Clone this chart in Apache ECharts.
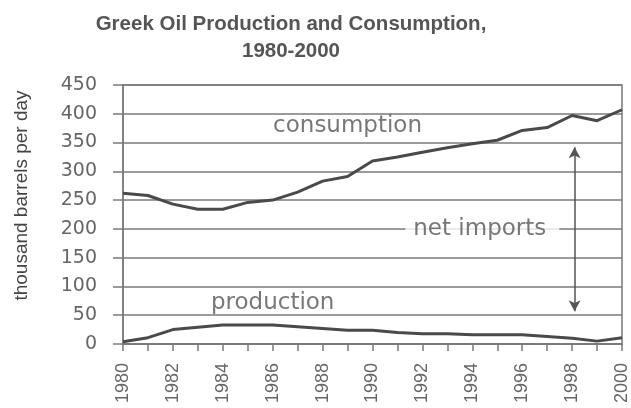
<!DOCTYPE html>
<html>
<head>
<meta charset="utf-8">
<script src="https://cdn.jsdelivr.net/npm/echarts@6/dist/echarts.min.js"></script>
<style>
html,body{margin:0;padding:0;background:#fff;}
#chart{width:631px;height:408px;}
</style>
</head>
<body>
<div id="chart"></div>
<script>
// ---- data ----
var years = [1980,1981,1982,1983,1984,1985,1986,1987,1988,1989,1990,1991,1992,1993,1994,1995,1996,1997,1998,1999,2000];
var consumption = [262,258,243,234,234,246,250,264,283,291,318,325,333,341,348,354,371,376,397,388,407];
var production  = [4,11,25,29,33,33,33,30,27,24,24,20,18,18,16,16,16,13,10,5,11];
var yTicks = [0,50,100,150,200,250,300,350,400,450];
var xTickLabels = ['1980','1982','1984','1986','1988','1990','1992','1994','1996','1998','2000'];
var titleText = 'Greek Oil Production and Consumption,\n1980-2000';
var yAxisName = 'thousand barrels per day';
var annotationTexts = ['consumption','production','net imports'];
var annotationPos = [[1989,379],[1986,71],[1994.4,200]];
var arrowYear = 1998.1;
var arrowRange = [342, 57];

var chart = echarts.init(document.getElementById('chart'), null, {renderer:'canvas'});
var gridCol = '#7a7a7a';

function pairs(vals){ return years.map(function(y,i){ return [y, vals[i]]; }); }

var annData = annotationTexts.map(function(t,i){
  var item = {value:[annotationPos[i][0], annotationPos[i][1], t]};
  if (t === 'net imports') {
    item.label = {backgroundColor:'#fff', padding:[2,13,2,8]};
  }
  return item;
});

var option = {
  animation:false,
  backgroundColor:'#fff',
  title:{
    text:titleText,
    left:286, top:6, textAlign:'center',
    textStyle:{fontFamily:'Liberation Sans, Arial, sans-serif', fontSize:20.5, fontWeight:'bold', color:'#555', lineHeight:27}
  },
  grid:{left:123, right:8, top:85, bottom:64, show:true, borderColor:gridCol, borderWidth:1.5, backgroundColor:'transparent'},
  xAxis:{
    type:'value', min:1980, max:2000, interval:1,
    axisLine:{show:true, lineStyle:{color:gridCol, width:1.5}},
    axisTick:{show:true, length:7, lineStyle:{color:gridCol, width:1.5}},
    splitLine:{show:false},
    axisLabel:{
      rotate:90, margin:19, color:'#666',
      fontFamily:'Liberation Sans, Arial, sans-serif', fontSize:18,
      formatter:function(v){ var s=String(v); return xTickLabels.indexOf(s)>=0 ? s : ''; }
    }
  },
  yAxis:{
    type:'value', min:yTicks[0], max:yTicks[yTicks.length-1], interval:50,
    name:yAxisName, nameLocation:'middle', nameGap:92,
    nameTextStyle:{fontFamily:'Liberation Sans Narrow, Liberation Sans, Arial, sans-serif', fontSize:19, color:'#444', padding:[0,0,0,38]},
    axisLine:{show:true, lineStyle:{color:gridCol, width:1.5}},
    axisTick:{show:true, length:10, lineStyle:{color:gridCol, width:1.5}},
    splitLine:{show:true, lineStyle:{color:gridCol, width:1.5}},
    axisLabel:{margin:26, color:'#666', fontFamily:'DejaVu Sans, sans-serif', fontSize:19}
  },
  series:[
    {
      type:'line', name:'consumption', data:pairs(consumption), symbol:'none',
      lineStyle:{color:'#4a4a4a', width:3}, z:3
    },
    {
      type:'line', name:'production', data:pairs(production), symbol:'none',
      lineStyle:{color:'#4a4a4a', width:3}, z:3,
      markLine:{
        silent:true, symbol:['arrow','arrow'], symbolSize:[9,11],
        label:{show:false},
        lineStyle:{type:'solid', color:'#555', width:1.5},
        data:[[{coord:[arrowYear, arrowRange[0]]},{coord:[arrowYear, arrowRange[1]]}]]
      }
    },
    {
      type:'scatter', data:annData, symbolSize:1, z:4,
      itemStyle:{color:'transparent'},
      label:{show:true, position:'inside', formatter:function(p){ return p.data.value[2]; },
        fontFamily:'DejaVu Sans, sans-serif', fontSize:23, color:'#555'}
    }
  ]
};
chart.setOption(option);
</script>
</body>
</html>
